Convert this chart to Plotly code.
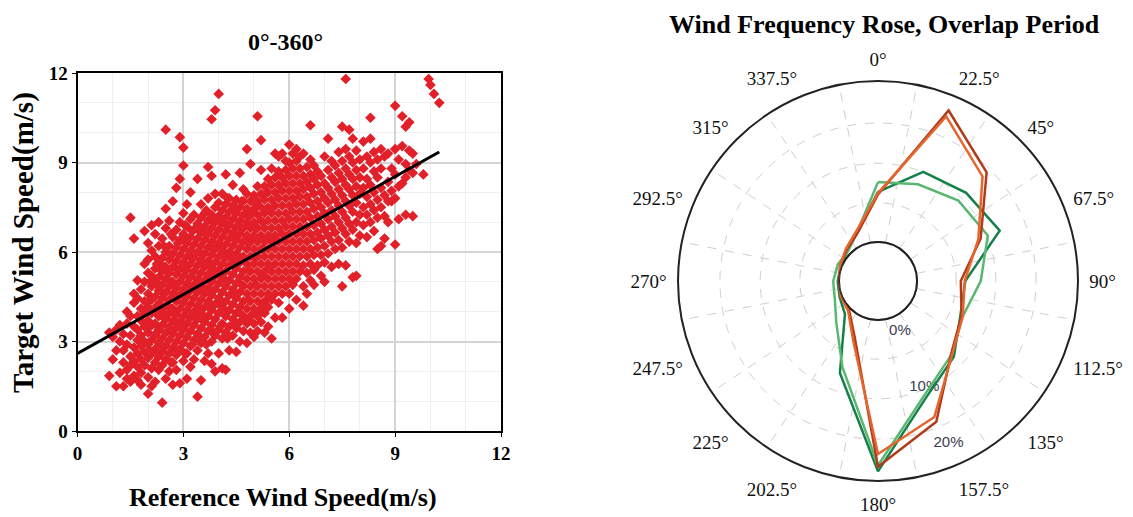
import plotly.graph_objects as go

# ---------------- scatter data (reference vs target wind speed, m/s) ----------------
ref_cols = [0.9, 1.0, 1.1, 1.2, 1.3, 1.4, 1.5, 1.6, 1.7, 1.8, 1.9, 2.0, 2.1, 2.2, 2.3, 2.4,
            2.5, 2.6, 2.7, 2.8, 2.9, 3.0, 3.1, 3.2, 3.3, 3.4, 3.5, 3.6, 3.7, 3.8, 3.9, 4.0,
            4.1, 4.2, 4.3, 4.4, 4.5, 4.6, 4.7, 4.8, 4.9, 5.0, 5.1, 5.2, 5.3, 5.4, 5.5, 5.6,
            5.7, 5.8, 5.9, 6.0, 6.1, 6.2, 6.3, 6.4, 6.5, 6.6, 6.7, 6.8, 6.9, 7.0, 7.1, 7.2,
            7.3, 7.4, 7.5, 7.6, 7.7, 7.8, 7.9, 8.0, 8.1, 8.2, 8.3, 8.4, 8.5, 8.6, 8.7, 8.8,
            8.9, 9.0, 9.1, 9.2, 9.3, 9.4, 9.5, 9.6, 9.8, 9.95, 10.0, 10.1, 10.25]

target_cols = [
    [1.85, 3.3], [2.4, 3.15], [1.5, 3.4, 2.7], [1.95, 3.55, 3.0], [2.3, 1.5, 3.25, 2.7],
    [1.75, 2.05, 3.6, 2.9, 4.0], [7.15, 2.5, 3.2, 1.65, 3.85, 2.2],
    [6.45, 1.85, 2.8, 3.5, 4.3, 2.35, 4.6],
    [1.7, 2.15, 2.6, 3.05, 3.4, 3.85, 4.45, 5.05],
    [1.95, 2.4, 2.85, 3.2, 3.7, 4.1, 4.75, 1.55],
    [2.2, 2.65, 3.0, 3.5, 3.95, 4.35, 5.0, 5.6, 6.7],
    [1.25, 1.8, 2.45, 2.9, 3.3, 3.7, 4.15, 4.6, 5.3, 5.75, 6.3],
    [1.5, 2.1, 2.6, 3.05, 3.55, 3.95, 4.4, 4.85, 5.2, 6.05, 6.9],
    [2.3, 2.75, 3.2, 3.6, 4.05, 4.5, 5.0, 5.45, 5.85, 6.6, 1.65],
    [2.05, 2.5, 2.95, 3.4, 3.85, 4.25, 4.7, 5.15, 5.6, 6.2, 7.0],
    [0.95, 2.65, 3.1, 3.55, 4.0, 4.45, 4.9, 5.35, 5.8, 6.45, 2.2],
    [10.1, 2.4, 2.85, 3.3, 3.75, 4.2, 4.65, 5.1, 5.5, 6.0, 6.8, 7.45, 1.75],
    [2.0, 2.6, 3.05, 3.5, 3.95, 4.4, 4.85, 5.3, 5.75, 6.2, 7.05],
    [1.55, 2.3, 2.8, 3.25, 3.7, 4.1, 4.6, 5.0, 5.5, 5.95, 6.5, 7.7],
    [2.05, 2.55, 3.0, 3.45, 3.9, 4.35, 4.8, 5.25, 5.7, 6.15, 6.75, 8.15],
    [1.6, 2.75, 3.2, 3.65, 4.1, 4.55, 5.0, 5.45, 5.9, 6.4, 7.0, 8.45, 9.85],
    [2.35, 2.95, 3.4, 3.85, 4.3, 4.75, 5.2, 5.65, 6.1, 6.6, 7.3, 8.9, 9.5],
    [1.75, 2.6, 3.15, 3.6, 4.05, 4.5, 4.95, 5.4, 5.85, 6.3, 6.85, 7.6],
    [2.15, 2.85, 3.35, 3.8, 4.25, 4.7, 5.15, 5.6, 6.05, 6.5, 7.1, 8.0],
    [2.4, 3.05, 3.55, 4.0, 4.45, 4.9, 5.35, 5.8, 6.25, 6.75, 7.25],
    [1.15, 2.7, 3.25, 3.75, 4.2, 4.65, 5.1, 5.55, 6.0, 6.45, 6.95, 8.45],
    [1.7, 2.95, 3.45, 3.95, 4.4, 4.85, 5.3, 5.75, 6.2, 6.65, 7.15, 7.6],
    [2.35, 3.15, 3.65, 4.15, 4.6, 5.05, 5.5, 5.95, 6.4, 6.85, 7.3],
    [2.6, 3.35, 3.85, 4.35, 4.8, 5.25, 5.7, 6.15, 6.6, 7.05, 7.8, 8.85],
    [2.25, 3.0, 3.55, 4.05, 4.55, 5.0, 5.45, 5.9, 6.35, 6.8, 7.25, 8.55, 10.45],
    [2.0, 3.2, 3.75, 4.25, 4.75, 5.2, 5.65, 6.1, 6.55, 7.0, 7.5, 7.95, 10.75],
    [2.6, 3.4, 3.95, 4.45, 4.95, 5.4, 5.85, 6.3, 6.75, 7.2, 7.65, 11.3],
    [2.1, 3.1, 3.6, 4.15, 4.65, 5.15, 5.6, 6.05, 6.5, 6.95, 7.4, 7.95],
    [3.3, 3.85, 4.35, 4.85, 5.35, 5.8, 6.25, 6.7, 7.15, 7.6, 8.6, 2.05],
    [2.7, 3.5, 4.05, 4.55, 5.05, 5.55, 6.0, 6.45, 6.9, 7.35, 7.8],
    [3.2, 3.75, 4.25, 4.75, 5.25, 5.75, 6.2, 6.65, 7.1, 7.55, 8.25],
    [2.65, 3.45, 3.95, 4.45, 4.95, 5.45, 5.95, 6.4, 6.85, 7.3, 7.75],
    [3.0, 3.65, 4.15, 4.65, 5.15, 5.65, 6.15, 6.6, 7.05, 7.5, 8.65],
    [3.35, 3.85, 4.35, 4.85, 5.35, 5.85, 6.35, 6.8, 7.25, 7.7, 8.1],
    [2.95, 3.6, 4.1, 4.6, 5.1, 5.6, 6.1, 6.55, 7.0, 7.45, 7.95, 9.45],
    [3.3, 3.85, 4.35, 4.85, 5.35, 5.85, 6.35, 6.8, 7.25, 7.7, 8.95],
    [3.6, 4.1, 4.6, 5.1, 5.6, 6.1, 6.55, 7.0, 7.45, 7.9, 3.15],
    [3.35, 3.85, 4.35, 4.85, 5.35, 5.85, 6.35, 6.8, 7.25, 7.7, 8.2, 10.55],
    [3.65, 4.1, 4.6, 5.1, 5.6, 6.1, 6.55, 7.05, 7.5, 7.95, 8.75, 9.75],
    [3.95, 4.35, 4.85, 5.35, 5.85, 6.35, 6.8, 7.3, 7.75, 8.2, 3.3],
    [3.5, 4.15, 4.6, 5.1, 5.6, 6.1, 6.55, 7.05, 7.5, 8.0, 8.45],
    [3.1, 4.4, 4.85, 5.35, 5.85, 6.35, 6.8, 7.3, 7.75, 8.25, 8.8],
    [3.8, 4.6, 5.1, 5.6, 6.1, 6.55, 7.05, 7.55, 8.0, 8.5, 9.3],
    [4.3, 4.85, 5.35, 5.85, 6.35, 6.8, 7.3, 7.8, 8.25, 8.7, 9.2],
    [3.8, 4.6, 5.1, 5.6, 6.1, 6.6, 7.05, 7.55, 8.05, 8.5, 9.3],
    [4.85, 5.35, 5.85, 6.35, 6.85, 7.3, 7.8, 8.3, 8.75, 9.05],
    [4.1, 4.6, 5.1, 5.6, 6.1, 6.6, 7.1, 7.55, 8.05, 8.55, 9.0, 9.6],
    [4.9, 5.35, 5.85, 6.35, 6.85, 7.35, 7.8, 8.3, 8.8, 9.3],
    [4.4, 5.1, 5.6, 6.1, 6.6, 7.1, 7.6, 8.05, 8.55, 9.05, 9.45],
    [5.35, 5.85, 6.35, 6.85, 7.35, 7.85, 8.3, 8.8, 9.2],
    [4.2, 4.85, 5.55, 6.1, 6.6, 7.1, 7.6, 8.1, 8.55, 9.3],
    [4.6, 5.3, 5.85, 6.35, 6.85, 7.35, 7.85, 8.35, 8.85],
    [5.05, 5.6, 6.1, 6.6, 7.15, 7.65, 8.15, 8.6, 9.1, 10.25],
    [4.9, 5.4, 5.9, 6.4, 6.9, 7.45, 7.95, 8.45, 8.9],
    [5.55, 6.15, 6.65, 7.2, 7.7, 8.25, 8.7],
    [5.2, 5.9, 6.45, 6.95, 7.5, 8.0, 8.55],
    [5.0, 5.65, 6.2, 6.75, 7.3, 7.8, 8.3, 9.2],
    [5.95, 6.55, 7.1, 7.65, 8.15, 8.75, 9.8],
    [5.5, 6.35, 6.85, 7.4, 7.95, 8.5, 9.05],
    [6.1, 6.65, 7.2, 7.75, 8.35, 8.9],
    [5.6, 6.4, 7.0, 7.55, 8.1, 8.65, 9.35],
    [4.85, 6.15, 6.8, 7.35, 7.9, 8.45, 9.05, 10.2],
    [5.55, 6.6, 7.15, 7.7, 8.25, 8.8, 9.45, 11.8],
    [6.35, 6.95, 7.55, 8.1, 8.6, 9.2, 10.1],
    [5.15, 6.75, 7.35, 7.9, 8.45, 9.0, 9.8],
    [5.2, 6.3, 7.0, 7.65, 8.2, 8.75, 9.4],
    [6.55, 7.25, 7.95, 8.5, 9.1],
    [6.9, 7.5, 8.15, 8.8, 9.7],
    [6.5, 7.25, 7.85, 8.45, 9.2],
    [7.0, 7.6, 8.25, 9.0, 9.8, 10.5],
    [6.7, 7.4, 8.0, 8.7, 9.35],
    [6.1, 7.15, 7.75, 8.5, 9.1],
    [6.2, 7.5, 8.15, 8.8, 9.45],
    [6.45, 7.2, 7.9, 9.2],
    [7.0, 7.7, 8.35, 9.3],
    [7.7, 8.05, 8.8],
    [6.25, 7.8, 8.6, 9.45, 10.9],
    [7.1, 8.2, 9.1],
    [8.3, 9.55, 10.55],
    [7.25, 8.5, 8.95, 10.2],
    [8.75, 9.4, 10.35],
    [7.2, 8.65, 9.3],
    [8.95],
    [8.6],
    [11.8],
    [11.6],
    [11.3],
    [11.0],
]

# extra points filling the dense core of the cloud
core_ref = [2.05, 2.25, 2.45, 2.65, 2.85, 3.05, 3.25, 3.45, 3.65, 3.85, 4.05, 4.25,
            4.45, 4.65, 4.85, 5.05, 5.25, 5.45]
core_target = [
    [2.7, 3.5, 4.4, 5.0],
    [2.55, 3.3, 4.2, 4.9, 5.6],
    [2.8, 3.8, 4.6, 5.5, 6.2],
    [2.3, 3.3, 4.1, 5.0, 5.9, 6.6],
    [2.7, 3.6, 4.5, 5.4, 6.3],
    [2.6, 3.55, 4.5, 5.4, 6.4, 6.9],
    [2.9, 3.9, 4.8, 5.8, 6.7],
    [3.1, 4.1, 5.0, 6.0, 6.8],
    [2.9, 3.8, 4.7, 5.6, 6.6, 7.4],
    [3.3, 4.2, 5.2, 6.1, 7.0],
    [3.5, 4.4, 5.3, 6.2, 7.1],
    [3.1, 4.0, 5.0, 5.9, 6.9, 7.8],
    [3.6, 4.6, 5.6, 6.5, 7.5],
    [3.9, 4.9, 5.8, 6.8, 7.7],
    [3.7, 4.4, 5.4, 6.3, 7.2],
    [4.0, 4.9, 5.8, 6.8, 7.6],
    [4.2, 5.2, 6.1, 7.0, 7.9],
    [4.5, 5.5, 6.5, 7.4],
]

# regression line end points
fit_x = [0.0, 10.25]
fit_y = [2.6, 9.35]

# ---------------- wind rose data (% frequency per sector) ----------------
directions = [0, 22.5, 45, 67.5, 90, 112.5, 135, 157.5,
              180, 202.5, 225, 247.5, 270, 292.5, 315, 337.5]
dir_labels = ["0°", "22.5°", "45°", "67.5°", "90°", "112.5°", "135°", "157.5°",
              "180°", "202.5°", "225°", "247.5°", "270°", "292.5°", "315°", "337.5°"]
sector_edges = [11.25, 33.75, 56.25, 78.75, 101.25, 123.75, 146.25, 168.75,
                191.25, 213.75, 236.25, 258.75, 281.25, 303.75, 326.25, 348.75]

freq_dark_green = [7.8, 12.3, 13.3, 14.4, 7.5, 7.8, 10.6, 13.5,
                   23.5, 9.4, 1.2, 0.4, 0.2, 0.2, 0.6, 2.2]
freq_light_green = [9.3, 10.2, 11.6, 12.4, 9.9, 8.2, 10.1, 13.0,
                    22.6, 8.4, 3.1, 1.2, 0.9, 0.7, 0.5, 2.3]
freq_dark_red = [7.4, 22.6, 17.8, 11.2, 6.8, 8.0, 10.0, 17.6,
                 22.8, 3.4, 0.3, 0.0, 0.0, 0.3, 0.8, 2.1]
freq_orange = [7.6, 21.6, 16.9, 10.8, 7.4, 8.2, 10.2, 16.8,
               20.8, 4.0, 0.5, 0.2, 0.0, 0.3, 1.0, 2.5]

# radial label scale of the rose (labels sit a little outside the calm circle)
radial_label_vals = [0, 10, 20]
radial_label_text = ["0%", "10%", "20%"]
radial_label_dir = 156.5
radial_grid_vals = [3.8, 10.3, 16.9]

# ---------------- build ----------------
ref_speed = []
target_speed = []
for x, ys in list(zip(ref_cols, target_cols)) + list(zip(core_ref, core_target)):
    for y in ys:
        ref_speed.append(x)
        target_speed.append(y)

SERIF = "Liberation Serif, Times New Roman, serif"
W, H = 1133, 517
OFF = 8  # page body margin of the html page

fig = go.Figure()

fig.add_trace(go.Scatter(
    x=ref_speed, y=target_speed, mode="markers",
    marker=dict(symbol="diamond", size=8.2, color="#e2202a", line=dict(width=0)),
    showlegend=False, xaxis="x", yaxis="y"))
fig.add_trace(go.Scatter(
    x=fit_x, y=fit_y, mode="lines", line=dict(color="black", width=3),
    showlegend=False, xaxis="x", yaxis="y"))

# radial labels on the grid layer
fig.add_trace(go.Scatterpolar(
    r=radial_label_vals, theta=[radial_label_dir] * len(radial_label_vals),
    mode="text", text=radial_label_text, textposition="middle center",
    textfont=dict(family="Arial, Liberation Sans, sans-serif", size=15, color="#3c3c52"),
    showlegend=False, subplot="polar", hoverinfo="skip"))

rose = [(freq_dark_green, "#17804a"), (freq_light_green, "#5ab772"),
        (freq_dark_red, "#b03c1c"), (freq_orange, "#e6652c")]
for vals, col in rose:
    fig.add_trace(go.Scatterpolar(
        r=vals + vals[:1], theta=directions + directions[:1], mode="lines",
        line=dict(color=col, width=2.5), showlegend=False, subplot="polar2"))

# inner (0 %) calm circle
fig.add_trace(go.Scatterpolar(
    r=[0] * 73, theta=[i * 5 for i in range(73)], mode="lines",
    line=dict(color="#222", width=1.5), showlegend=False, subplot="polar2",
    hoverinfo="skip"))

px2x = lambda p: (p - OFF) / W
px2y = lambda p: 1 - (p - OFF) / H


def ann(text, x, y, size, angle=0, yanchor="middle"):
    return dict(text=text, x=px2x(x), y=px2y(y), xref="paper", yref="paper",
                xanchor="center", yanchor=yanchor, showarrow=False, textangle=angle,
                font=dict(family=SERIF, size=size, color="black"))


rose_domain = dict(x=[px2x(678), px2x(1078)], y=[px2y(481), px2y(81)])
axis_font = dict(family=SERIF, size=19, color="black", weight="bold")

fig.update_layout(
    width=W, height=H, margin=dict(l=0, r=0, t=0, b=0, autoexpand=False),
    paper_bgcolor="white", plot_bgcolor="white",
    font=dict(family=SERIF, color="black"),
    xaxis=dict(domain=[px2x(77.5), px2x(501)], range=[0, 12], tickvals=[0, 3, 6, 9, 12],
               showgrid=True, gridcolor="#d4d4d4", gridwidth=1.5, automargin=False,
               minor=dict(dtick=1, showgrid=True, gridcolor="#efefef", gridwidth=1),
               showline=True, linecolor="black", linewidth=2, mirror=True,
               ticks="outside", ticklen=4, tickcolor="black", zeroline=False,
               tickfont=axis_font, anchor="y"),
    yaxis=dict(domain=[px2y(431), px2y(73)], range=[0, 12], tickvals=[0, 3, 6, 9, 12],
               showgrid=True, gridcolor="#d4d4d4", gridwidth=1.5, automargin=False,
               minor=dict(dtick=1, showgrid=True, gridcolor="#efefef", gridwidth=1),
               showline=True, linecolor="black", linewidth=2, mirror=True,
               ticks="outside", ticklen=4, tickcolor="black", zeroline=False,
               tickfont=axis_font, anchor="x"),
    # grid layer of the rose
    polar=dict(
        domain=rose_domain, hole=0.195, bgcolor="white",
        radialaxis=dict(range=[-2.62, 23.78], tickvals=radial_grid_vals,
                        showticklabels=False, showline=False, ticks="",
                        gridcolor="#cfcfcf", griddash="dash", gridwidth=1),
        angularaxis=dict(rotation=90, direction="clockwise", tickvals=sector_edges,
                         showticklabels=False, showline=True, linecolor="#222",
                         linewidth=2, ticks="", gridcolor="#cfcfcf", griddash="dash",
                         gridwidth=1),
    ),
    # data layer of the rose
    polar2=dict(
        domain=rose_domain, hole=0.195, bgcolor="rgba(0,0,0,0)",
        radialaxis=dict(range=[0, 25], showgrid=False, showticklabels=False,
                        showline=False, ticks=""),
        angularaxis=dict(rotation=90, direction="clockwise", tickvals=directions,
                         ticktext=dir_labels, showline=False, showgrid=False,
                         ticks="outside", ticklen=7, tickcolor="rgba(0,0,0,0)",
                         tickfont=dict(family=SERIF, size=19, color="#111")),
    ),
    annotations=[
        ann("<b>0°-360°</b>", 285, 42, 24),
        ann("<b>Reference Wind Speed(m/s)</b>", 283, 497, 26),
        ann("<b>Target Wind Speed(m/s)</b>", 23, 243, 29, -90),
        ann("<b>Wind Frequency Rose, Overlap Period</b>", 884, OFF, 26, yanchor="top"),
    ],
)

fig.write_html("out.html")
